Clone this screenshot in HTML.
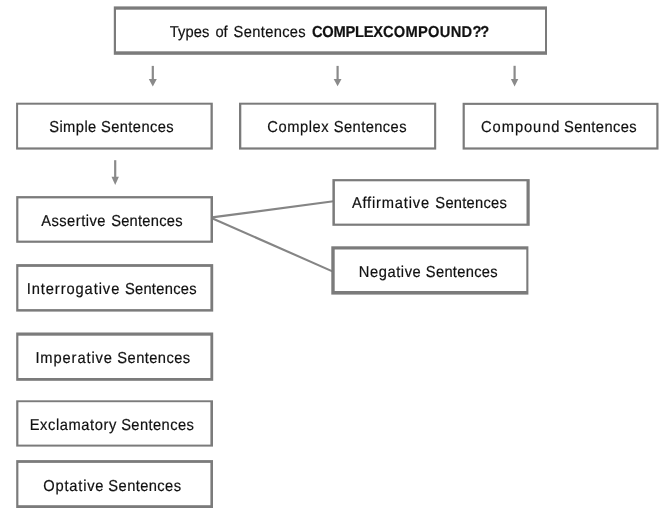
<!DOCTYPE html>
<html><head><meta charset="utf-8"><title>Types of Sentences</title>
<style>
html,body{margin:0;padding:0;background:#fff;}
body{width:666px;height:508px;overflow:hidden;font-family:"Liberation Sans",sans-serif;}
svg{display:block;will-change:transform;}
text{font-family:"Liberation Sans",sans-serif;font-size:15.8px;fill:#111;stroke:#111;stroke-width:0.2px;text-rendering:geometricPrecision;}
.g{fill:#7b7b7b;}
.ar{fill:#8a8a8a;}
.w{fill:#fff;}
.l{stroke:#858585;stroke-width:2.1;fill:none;}
</style></head><body>
<svg width="666" height="508" viewBox="0 0 666 508">
<rect width="666" height="508" fill="#fff"/>
<line class="l" x1="212" y1="217.4" x2="333.5" y2="201.3"/>
<line class="l" x1="212" y1="218.2" x2="333" y2="271.6"/>
<rect class="g" x="113.8" y="6.4" width="433.2" height="48.4"/><rect class="w" x="116" y="9.7" width="429" height="41.6"/>
<rect class="g" x="16.1" y="102.7" width="196.7" height="46.9"/><rect class="w" x="18.1" y="104.7" width="192.4" height="42.7"/>
<rect class="g" x="239" y="102.7" width="197.2" height="46.9"/><rect class="w" x="241.3" y="104.7" width="192.8" height="42.7"/>
<rect class="g" x="462.6" y="102.8" width="195.9" height="46.8"/><rect class="w" x="464.8" y="104.9" width="191.5" height="42.5"/>
<rect class="g" x="16.2" y="196.1" width="196.8" height="46.7"/><rect class="w" x="18.4" y="198.4" width="192.1" height="42.2"/>
<rect class="g" x="332.4" y="179.1" width="197.3" height="46.7"/><rect class="w" x="334.9" y="181.3" width="191.6" height="42.3"/>
<rect class="g" x="331.3" y="246.3" width="197.1" height="48.3"/><rect class="w" x="334.7" y="249.5" width="191.6" height="41.5"/>
<rect class="g" x="16.2" y="264.1" width="197" height="47.5"/><rect class="w" x="18.4" y="266.9" width="192" height="42.2"/>
<rect class="g" x="16.2" y="332.5" width="197" height="48.3"/><rect class="w" x="18.4" y="335.7" width="192" height="42.3"/>
<rect class="g" x="16.2" y="400.3" width="196.8" height="46.3"/><rect class="w" x="18.4" y="402.2" width="192" height="42.4"/>
<rect class="g" x="16.2" y="460.1" width="196.8" height="47.9"/><rect class="w" x="18.4" y="462.9" width="192" height="42.3"/>
<rect class="ar" x="151.7" y="65.9" width="2.2" height="14"/><path class="ar" d="M148.8 78.9 L156.8 78.9 L152.8 86.4Z"/>
<rect class="ar" x="336.5" y="65.9" width="2.2" height="14"/><path class="ar" d="M333.7 78.9 L341.5 78.9 L337.6 86.2Z"/>
<rect class="ar" x="513.5" y="65.8" width="2.2" height="14.1"/><path class="ar" d="M510.9 78.9 L518.3 78.9 L514.6 86.4Z"/>
<rect class="ar" x="114.1" y="160.2" width="2.2" height="17.5"/><path class="ar" d="M111.5 176.7 L118.9 176.7 L115.2 184.9Z"/>
<text transform="translate(169.82 37) scale(0.93 1)" textLength="42.42" lengthAdjust="spacing">Types</text>
<text transform="translate(215.62 37) scale(0.93 1)" textLength="12.79" lengthAdjust="spacing">of</text>
<text transform="translate(233.62 37) scale(0.93 1)" textLength="77.53" lengthAdjust="spacing">Sentences</text>
<text transform="translate(311.88 37) scale(0.93 1)" textLength="76.48" lengthAdjust="spacing" font-weight="bold">COMPLEX</text>
<text transform="translate(382.97 37) scale(0.93 1)" textLength="95.95" lengthAdjust="spacing" font-weight="bold">COMPOUND</text>
<text transform="translate(472.49 37) scale(0.93 1)" textLength="17.97" lengthAdjust="spacing" font-weight="bold">??</text>
<text transform="translate(49.16 132) scale(0.93 1)" textLength="50.66" lengthAdjust="spacing">Simple</text>
<text transform="translate(101.01 132) scale(0.93 1)" textLength="78.06" lengthAdjust="spacing">Sentences</text>
<text transform="translate(267.27 132) scale(0.93 1)" textLength="65.93" lengthAdjust="spacing">Complex</text>
<text transform="translate(333.84 132) scale(0.93 1)" textLength="78.16" lengthAdjust="spacing">Sentences</text>
<text transform="translate(481.06 132) scale(0.93 1)" textLength="84.37" lengthAdjust="spacing">Compound</text>
<text transform="translate(563.93 132) scale(0.93 1)" textLength="78.24" lengthAdjust="spacing">Sentences</text>
<text transform="translate(41.14 226) scale(0.93 1)" textLength="69.16" lengthAdjust="spacing">Assertive</text>
<text transform="translate(111.13 226) scale(0.93 1)" textLength="76.76" lengthAdjust="spacing">Sentences</text>
<text transform="translate(351.88 208) scale(0.93 1)" textLength="83.11" lengthAdjust="spacing">Affirmative</text>
<text transform="translate(435.37 208) scale(0.93 1)" textLength="76.74" lengthAdjust="spacing">Sentences</text>
<text transform="translate(358.75 277) scale(0.93 1)" textLength="66.66" lengthAdjust="spacing">Negative</text>
<text transform="translate(425.87 277) scale(0.93 1)" textLength="77.13" lengthAdjust="spacing">Sentences</text>
<text transform="translate(26.7 294) scale(0.93 1)" textLength="99.58" lengthAdjust="spacing">Interrogative</text>
<text transform="translate(124.89 294) scale(0.93 1)" textLength="77.1" lengthAdjust="spacing">Sentences</text>
<text transform="translate(35.38 363) scale(0.93 1)" textLength="82.35" lengthAdjust="spacing">Imperative</text>
<text transform="translate(117.31 363) scale(0.93 1)" textLength="78.34" lengthAdjust="spacing">Sentences</text>
<text transform="translate(29.7 430) scale(0.93 1)" textLength="93.05" lengthAdjust="spacing">Exclamatory</text>
<text transform="translate(121.13 430) scale(0.93 1)" textLength="78.18" lengthAdjust="spacing">Sentences</text>
<text transform="translate(43.37 491) scale(0.93 1)" textLength="64.63" lengthAdjust="spacing">Optative</text>
<text transform="translate(108.37 491) scale(0.93 1)" textLength="78.16" lengthAdjust="spacing">Sentences</text>
</svg>
</body></html>
